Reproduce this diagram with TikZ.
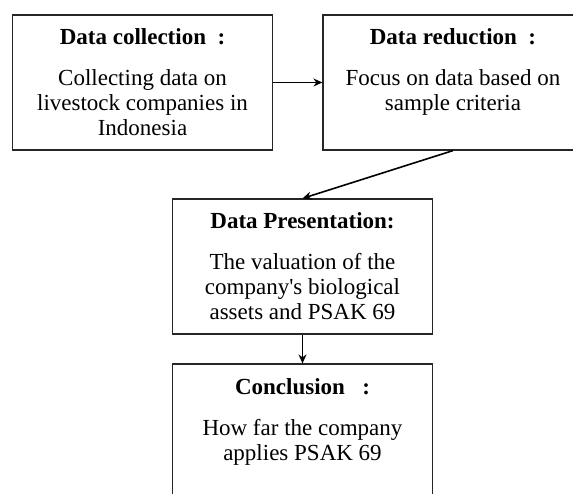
\documentclass[tikz,border=0pt]{standalone}
\usepackage{fontspec}
\setmainfont{Liberation Serif}
\usetikzlibrary{arrows.meta, positioning}

% heading on top, description below, all in a fixed-height box
\newcommand{\stagetext}[2]{%
  \parbox[c][135pt][t]{255pt}{\centering
    \textbf{\rule{0pt}{30pt}#1}\par\vspace{16pt}#2}}

\begin{document}
\begin{tikzpicture}[
    x=1pt, y=-1pt,
    >={Stealth[length=9pt, width=8pt]},
    stage/.style={rectangle, draw=black!85, line width=1.2pt, minimum width=260pt, minimum height=135pt, inner sep=0pt, font=\fontsize{23}{25}\selectfont},
    arrow/.style={->, draw=black, line width=1.6pt}
]
\useasboundingbox (0,0) rectangle (573,494);
\clip (0,0) rectangle (573,494);

% Top row
\node[stage] (collect) at (142.5, 82.5) {\stagetext{Data collection\ \ :}{Collecting data on\\ livestock companies in\\ Indonesia}};
\node[stage] (reduce) at (453, 82.5) {\stagetext{Data reduction\ \ :}{Focus on data based on\\ sample criteria}};

% Middle and bottom
\node[stage] (present) at (302.5, 266.5) {\stagetext{Data Presentation:}{The valuation of the\\ company\textquotesingle s biological\\ assets and PSAK 69}};
\node[stage] (conclude) at (302.5, 431.5) {\stagetext{Conclusion\ \ \ :}{How far the company\\ applies PSAK 69}};

\draw[arrow] (collect.east) -- (reduce.west);
\draw[arrow] (reduce.south) -- (present.north);
\draw[arrow] (present.south) -- (conclude.north);

\end{tikzpicture}
\end{document}
